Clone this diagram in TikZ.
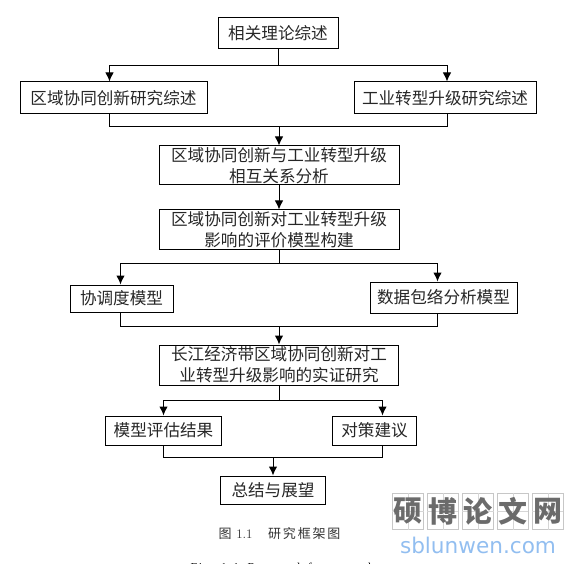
\documentclass[tikz,border=0pt]{standalone}
\usepackage{fontspec}
\newfontfamily\cjk{Noto Sans CJK SC}
\newfontfamily\capcjk[LetterSpace=14]{Noto Sans CJK SC}
\newfontfamily\capen[LetterSpace=14]{Liberation Serif}
\newfontfamily\wmcjk{Noto Sans CJK SC}
\newfontfamily\wmen{DejaVu Sans}
\usetikzlibrary{arrows.meta,positioning}
\definecolor{wmblue}{RGB}{146,190,240}

\begin{document}
\begin{tikzpicture}[
  >={Latex[length=9pt,width=8.5pt]}, x=1pt, y=1pt, line width=1pt,
  font=\cjk\fontsize{16.6}{21}\selectfont,
  box/.style={draw, inner sep=0pt, align=center, text=black!85},
  wmbox/.style={draw=black!22, line width=0.7pt, minimum width=30.5pt, minimum height=36.5pt, inner sep=0pt},
  wmtext/.style={inner sep=0pt, text=black!58, font=\wmcjk\bfseries\fontsize{29}{29}\selectfont}
]
\clip (0,0) rectangle (581,-564);

% ---------- TOP ROW ----------
\node[box, minimum width=120pt, minimum height=31pt] (n1) at (278,-33.5) {相关理论综述};
\node[box, minimum width=187pt, minimum height=32pt, below=32pt of n1, xshift=-164.5pt] (n2) {区域协同创新研究综述};
\node[box, minimum width=182pt, minimum height=32pt, below=32pt of n1, xshift=167pt] (n3) {工业转型升级研究综述};
\node[box, minimum width=240pt, minimum height=39pt, below=96pt of n1, xshift=1pt] (n4) {区域协同创新与工业转型升级\\相互关系分析};
\node[box, minimum width=240pt, minimum height=40pt, below=24pt of n4] (n5) {区域协同创新对工业转型升级\\影响的评价模型构建};

\coordinate (c1) at ([yshift=16pt]n2.north -| n1.south);
\coordinate (c2) at ([yshift=19pt]n4.north);
\draw[->] (n1.south) -- (c1) -| ([xshift=-4pt]n2.north);
\draw[->] (c1) -| ([xshift=2pt]n3.north);
\draw ([xshift=-4pt]n2.south) |- (c2);
\draw ([xshift=2pt]n3.south) |- (c2);
\draw[->] (c2) -- (n4);
\draw[->] (n4) -- (n5);

% ---------- MODELS ----------
\node[box, minimum width=103pt, minimum height=27pt, below=34pt of n5, xshift=-157.5pt] (n6) {协调度模型};
\node[box, minimum width=147pt, minimum height=31pt, below=31pt of n5, xshift=164.5pt] (n7) {数据包络分析模型};
\node[box, minimum width=239pt, minimum height=40pt, below=94pt of n5] (n8) {长江经济带区域协同创新对工\\业转型升级影响的实证研究};

\coordinate (c3) at ([yshift=-13pt]n5.south);
\coordinate (c4) at ([yshift=18pt]n8.north);
\draw (n5.south) -- (c3);
\draw[->] (c3) -| ([xshift=-1pt]n6.north);
\draw[->] (c3) -| ([xshift=-6pt]n7.north);
\draw ([xshift=-1pt]n6.south) |- (c4);
\draw ([xshift=-6pt]n7.south) |- (c4);
\draw[->] (c4) -- (n8);

% ---------- RESULTS ----------
\node[box, minimum width=116pt, minimum height=29pt, below=30pt of n8, xshift=-115.5pt] (n9) {模型评估结果};
\node[box, minimum width=84pt, minimum height=29pt, below=30pt of n8, xshift=95.5pt] (n10) {对策建议};
\node[box, minimum width=105pt, minimum height=28pt, below=90pt of n8, xshift=-6pt] (n11) {总结与展望};

\coordinate (c5) at ([yshift=-15pt]n8.south);
\coordinate (c6) at ([yshift=18pt]n11.north);
\draw (n8.south) -- (c5);
\draw[->] (c5) -| (n9.north);
\draw[->] (c5) -| ([xshift=8pt]n10.north);
\draw (n9.south) |- (c6);
\draw ([xshift=8pt]n10.south) |- (c6);
\draw[->] (c6) -- (n11);

% ---------- CAPTIONS ----------
\node[inner sep=0pt, text=black!80, font=\capcjk\fontsize{13}{15}\selectfont] (cap1) at (279.5,-534) {图 {\rmfamily 1.1}\hspace{1.2em}研究框架图};
\node[anchor=base west, inner sep=0pt, font=\capen\fontsize{12}{14}\selectfont] (cap2) at (190,-571) {Fig. 1.1\hspace{0.7em}Research framework};

% ---------- WATERMARK ----------
\foreach \i/\x/\t in {1/408/硕,2/442.8/博,3/478/论,4/512.8/文,5/547.8/网}{
  \node[wmbox] (w\i) at (\x,-511.5) {};
  \draw[black!16, line width=0.5pt] (w\i.west) -- (w\i.east);
  \draw[black!16, line width=0.5pt] (w\i.north) -- (w\i.south);
  \node[wmtext] (t\i) at (w\i) {\t};
}
\node[inner sep=0pt, text=wmblue, font=\wmen\fontsize{21.6}{23}\selectfont] (w6) at (478,-545) {sblunwen.com};
\end{tikzpicture}
\end{document}
